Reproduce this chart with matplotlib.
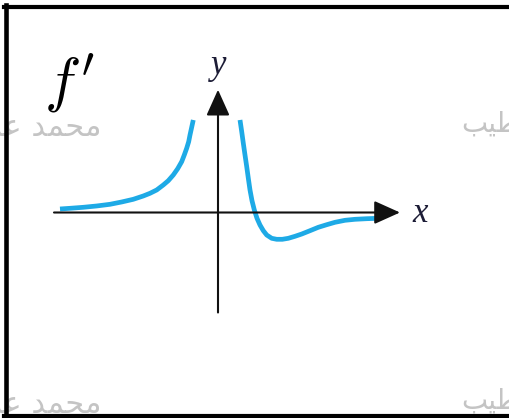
import matplotlib
matplotlib.use('Agg')
import matplotlib.pyplot as plt
from matplotlib.lines import Line2D

plt.rcParams['mathtext.fontset'] = 'cm'

# f' sketch: left branch blows up at the y axis, right branch comes down, dips below and levels off
left_x = [-3.95, -3.7, -3.368, -3.033, -2.7, -2.408, -2.118, -1.868, -1.7, -1.533, -1.368,
          -1.243, -1.118, -1.008, -0.908, -0.843, -0.783, -0.733, -0.7, -0.658, -0.618]
left_y = [0.088, 0.105, 0.13, 0.163, 0.205, 0.263, 0.33, 0.413, 0.48, 0.563, 0.688,
          0.795, 0.938, 1.095, 1.27, 1.438, 1.605, 1.77, 1.938, 2.13, 2.313]
right_x = [0.55, 0.593, 0.633, 0.675, 0.718, 0.758, 0.8, 0.85, 0.908, 0.975, 1.05, 1.133,
           1.218, 1.343, 1.468, 1.608, 1.758, 1.925, 2.093, 2.3, 2.508, 2.718, 2.925,
           3.175, 3.425, 3.718, 4.008]
right_y = [2.313, 2.02, 1.73, 1.438, 1.145, 0.855, 0.563, 0.295, 0.063, -0.145, -0.313,
           -0.455, -0.563, -0.645, -0.67, -0.67, -0.645, -0.595, -0.538, -0.455, -0.37,
           -0.305, -0.245, -0.195, -0.17, -0.155, -0.145]

x_axis = (-4.1, 4.55)
y_axis = (-2.5, 3.07)
curve_color = '#1eaae6'

W, H = 509, 418
fig = plt.figure(figsize=(W / 100, H / 100), dpi=100)
fig.patch.set_facecolor('white')


def px(x, y):
    return x / W, 1 - y / H


# faint watermark behind everything
wm_left = '\uFEAA\uFE92\uFECB \uFEAA\uFEE4\uFEA4\uFEE3'
wm_right = '\uFE90\uFEF4\uFEC4\uFEA7'
for yy in (127, 404):
    fig.text(*px(101, yy), wm_left, ha='right', va='center', fontsize=22,
             color='#c4c4c4', family='DejaVu Sans', zorder=0)
    fig.text(*px(461, yy - 3), wm_right, ha='left', va='center', fontsize=20,
             color='#c4c4c4', family='DejaVu Sans', zorder=0)

ax = fig.add_axes([0, 0, 1, 1])
ax.set_xlim(-218 / 40, (W - 218) / 40)
ax.set_ylim((212.5 - H) / 40, 212.5 / 40)
ax.axis('off')
ax.patch.set_alpha(0)

# coordinate axes with filled arrowheads
arrow = dict(arrowstyle='-|>,head_length=1.6,head_width=0.72', mutation_scale=10,
             lw=1.5, color='#111111', shrinkA=0, shrinkB=0)
ax.annotate('', xy=(x_axis[1], 0), xytext=(x_axis[0], 0), arrowprops=arrow)
ax.annotate('', xy=(0, y_axis[1]), xytext=(0, y_axis[0]), arrowprops=arrow)

ax.plot(left_x, left_y, color=curve_color, lw=3.4, solid_capstyle='butt', solid_joinstyle='round')
ax.plot(right_x, right_y, color=curve_color, lw=3.4, solid_capstyle='butt', solid_joinstyle='round')

ax.text(5.05, -0.24, 'x', fontsize=25, style='italic', family='Liberation Serif',
        color='#1c1c36', ha='center', va='baseline')
ax.text(0.02, 3.47, 'y', fontsize=25, style='italic', family='Liberation Serif',
        color='#1c1c36', ha='center', va='baseline')
ax.text(-4.35, 2.8, r"$f'$", fontsize=44, color='black', ha='left', va='baseline')

# frame around the picture
for xs, ys, w in [((6, 6), (5, 418), 3.3), ((4, 509), (7, 7), 3.0), ((4, 509), (416, 416), 3.0)]:
    fig.add_artist(Line2D([x / W for x in xs], [1 - y / H for y in ys], color='black',
                          lw=w, transform=fig.transFigure))

fig.savefig('out.png', dpi=100)
